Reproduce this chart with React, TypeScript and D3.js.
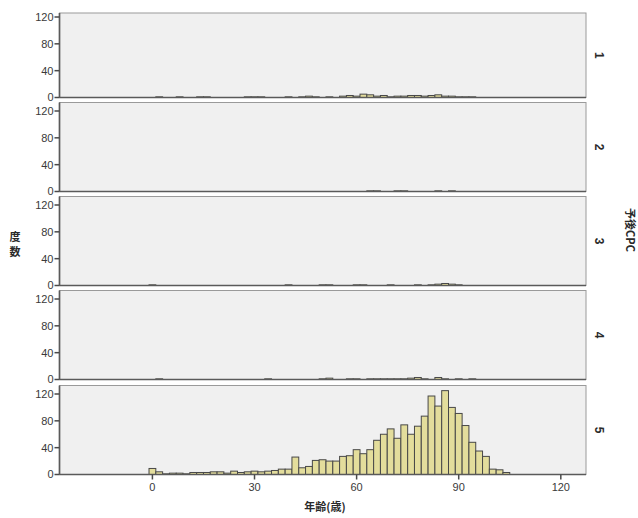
import React from "react";
import * as d3 from "d3";

// Bin centres (2-year bins)
const ages: number[] = d3.range(0, 106, 2);

// Panel labels (予後CPC)
const panelLabels = ["1", "2", "3", "4", "5"];

// Counts per panel as [age, count]
const cpc1: [number, number][] = [
  [2, 1], [8, 1], [14, 1], [16, 1], [28, 1], [30, 1], [32, 1], [40, 1], [44, 1], [46, 2],
  [48, 1], [52, 1], [56, 2], [58, 3], [60, 2], [62, 5], [64, 4], [66, 2], [68, 3], [70, 1],
  [72, 2], [74, 2], [76, 3], [78, 3], [80, 2], [82, 3], [84, 4], [86, 2], [88, 2], [90, 1],
  [92, 1], [94, 1],
];
const cpc2: [number, number][] = [[64, 1], [66, 1], [72, 1], [74, 1], [84, 1], [88, 1]];
const cpc3: [number, number][] = [
  [0, 1], [40, 1], [50, 1], [52, 1], [60, 1], [62, 1], [70, 1], [78, 1], [82, 1], [84, 2],
  [86, 3], [88, 2], [90, 1],
];
const cpc4: [number, number][] = [
  [2, 1], [34, 1], [50, 1], [52, 2], [58, 1], [60, 1], [64, 1], [66, 1], [68, 1], [70, 1],
  [72, 1], [74, 1], [76, 2], [78, 3], [80, 1], [84, 3], [86, 1], [90, 1], [94, 1],
];
const cpc5Counts: number[] = [
  9, 4, 1, 2, 2, 1, 3, 3, 3, 4, 4, 2, 5, 3, 4, 5, 4, 5, 6, 8, 8,
  26, 10, 12, 21, 22, 20, 20, 27, 28, 37, 31, 37, 51, 60, 68, 54, 74, 60, 72, 87,
  117, 102, 125, 100, 91, 73, 48, 35, 27, 8, 7, 3,
];
const cpc5: [number, number][] = ages.map((a, i) => [a, cpc5Counts[i]]);

const panels = [cpc1, cpc2, cpc3, cpc4, cpc5];

const xTicks = [0, 30, 60, 90, 120];
const yTicks = [0, 40, 80, 120];

const W = 638;
const H = 518;
const left = 59.5;
const right = 586;
const baselines = [97.5, 191.5, 285.5, 379.5, 474.5];
const panelH = 89;

const x = d3.scaleLinear().domain([-27.3, 127.4]).range([left, right]);
const yLen = d3.scaleLinear().domain([0, 120]).range([0, 80.5]);

const font = "'Liberation Sans', Arial, sans-serif";
const cjk = "'Noto Sans CJK JP', sans-serif";

export default function App() {
  return (
    <svg width={W} height={H} style={{ position: "absolute", left: 0, top: 0, background: "#fff" }}>
      {panels.map((data, pi) => {
        const base = baselines[pi];
        const top = pi === 0 ? 13 : base - panelH;
        return (
          <g key={pi}>
            <rect x={left} y={top} width={right - left} height={base - top} fill="#f0f0f0" stroke="#9a9a9a" strokeWidth={1} />
            {data.filter((d) => d[1] > 0).map(([a, c]) => {
              const h = yLen(c);
              return (
                <rect
                  key={a}
                  x={x(a - 1)}
                  y={base - h}
                  width={x(a + 1) - x(a - 1)}
                  height={h}
                  fill="#e3dd9c"
                  stroke="#484848"
                  strokeWidth={1}
                />
              );
            })}
            <line x1={left} x2={right} y1={base} y2={base} stroke="#5a5a5a" strokeWidth={1.7} />
            <line x1={left} x2={left} y1={top} y2={base} stroke="#5a5a5a" strokeWidth={1.7} />
            {yTicks.map((t) => (
              <g key={t}>
                <line x1={left - 5} x2={left} y1={base - yLen(t)} y2={base - yLen(t)} stroke="#4a4a4a" strokeWidth={1.5} />
                <text x={left - 6} y={base - yLen(t)} dy="0.35em" textAnchor="end" fontSize={11} fill="#3a3a3a" fontFamily={font}>
                  {t}
                </text>
              </g>
            ))}
            <text
              transform={`translate(599, ${(top + base) / 2}) rotate(90)`}
              textAnchor="middle"
              dy="0.35em"
              fontSize={12}
              fontWeight="bold"
              fill="#2a2a2a"
              fontFamily={font}
            >
              {panelLabels[pi]}
            </text>
          </g>
        );
      })}
      {xTicks.map((t) => (
        <g key={t}>
          <line x1={x(t)} x2={x(t)} y1={baselines[4]} y2={baselines[4] + 5} stroke="#4a4a4a" strokeWidth={1.5} />
          <text x={x(t)} y={baselines[4] + 16} textAnchor="middle" fontSize={11} fill="#3a3a3a" fontFamily={font}>
            {t}
          </text>
        </g>
      ))}
      <text x={325} y={511} textAnchor="middle" fontSize={11} fontWeight="bold" fill="#2a2a2a" fontFamily={cjk}>
        年齢(歳)
      </text>
      <text x={15} y={241} textAnchor="middle" fontSize={11} fontWeight="bold" fill="#2a2a2a" fontFamily={cjk}>
        度
      </text>
      <text x={15} y={256} textAnchor="middle" fontSize={11} fontWeight="bold" fill="#2a2a2a" fontFamily={cjk}>
        数
      </text>
      <text
        transform="translate(630, 230) rotate(90)"
        textAnchor="middle"
        dy="0.35em"
        fontSize={11}
        fontWeight="bold"
        fill="#2a2a2a"
        fontFamily={cjk}
      >
        予後CPC
      </text>
    </svg>
  );
}
